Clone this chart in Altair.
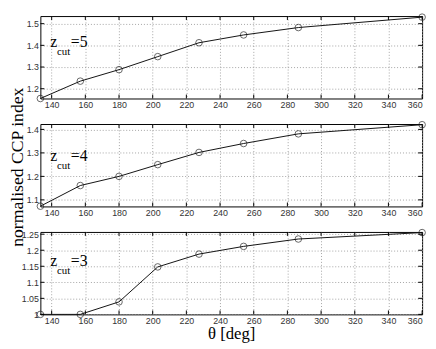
import altair as alt
import pandas as pd

theta = [133.3, 157, 180, 203, 227.5, 254, 286.5, 360]
ccp_z5 = [1.155, 1.235, 1.288, 1.348, 1.412, 1.448, 1.482, 1.530]
ccp_z4 = [1.073, 1.161, 1.200, 1.250, 1.302, 1.340, 1.381, 1.420]
ccp_z3 = [1.000, 1.000, 1.039, 1.148, 1.188, 1.212, 1.235, 1.255]

x_ticks = [140, 160, 180, 200, 220, 240, 260, 280, 300, 320, 340, 360]
y_ticks_z5 = [1.2, 1.3, 1.4, 1.5]
y_ticks_z4 = [1.1, 1.2, 1.3, 1.4]
y_ticks_z3 = [1.0, 1.05, 1.1, 1.15, 1.2, 1.25]

dom_z5 = [1.155, 1.535]
dom_z4 = [1.072, 1.423]
dom_z3 = [1.0, 1.257]
x_dom = [133.3, 360]

W, H = 389, 84
SERIF = "Times New Roman"
SANS = "Liberation Sans"


def panel(values, ydom, yticks, cut, lab_y, ytitle=None, xtitle=None):
    df = pd.DataFrame({"theta": theta, "ccp": values})
    xs = alt.Scale(domain=x_dom, nice=False, zero=False)
    ys = alt.Scale(domain=ydom, nice=False, zero=False)
    common = dict(grid=True, gridDash=[1, 2], gridColor="#999", gridOpacity=0.9,
                  domain=False, ticks=False, labelFont=SANS, labelFontSize=9,
                  labelColor="#333", labelPadding=2)
    xkw = dict(values=x_ticks, labelFlush=True, labelOverlap=False, **common)
    if xtitle:
        xkw.update(title=xtitle, titleFont=SERIF, titleFontSize=17,
                   titleFontWeight="normal", titleColor="black", titlePadding=1)
    else:
        xkw.update(title=None)
    ykw = dict(values=yticks, format="~g", labelFlush=False, labelOverlap=False,
               title=None, **common)
    xax = alt.Axis(**xkw)
    yax = alt.Axis(**ykw)

    base = alt.Chart(df)
    line = base.mark_line(color="#111", strokeWidth=1).encode(
        x=alt.X("theta:Q", scale=xs, axis=xax),
        y=alt.Y("ccp:Q", scale=ys, axis=yax),
    )
    pts = base.mark_point(shape="circle", size=45, color="#111",
                          filled=False, strokeWidth=0.9).encode(
        x=alt.X("theta:Q", scale=xs, axis=xax),
        y=alt.Y("ccp:Q", scale=ys, axis=yax))

    xt = alt.Chart(pd.DataFrame({"theta": x_ticks}))
    tb = xt.mark_rule(color="black").encode(
        x=alt.X("theta:Q", scale=xs, axis=xax), y=alt.value(H), y2=alt.value(H - 4))
    tt = xt.mark_rule(color="black").encode(
        x=alt.X("theta:Q", scale=xs, axis=xax), y=alt.value(0), y2=alt.value(4))
    yt = alt.Chart(pd.DataFrame({"ccp": yticks}))
    tl = yt.mark_rule(color="black").encode(
        y=alt.Y("ccp:Q", scale=ys, axis=yax), x=alt.value(0), x2=alt.value(4))
    tr = yt.mark_rule(color="black").encode(
        y=alt.Y("ccp:Q", scale=ys, axis=yax), x=alt.value(W), x2=alt.value(W - 4))

    one = alt.Chart(pd.DataFrame({"t": [0]}))
    z = one.mark_text(font=SERIF, fontSize=16, align="left", baseline="alphabetic",
                      color="black").encode(x=alt.value(10), y=alt.value(lab_y),
                                            text=alt.value("z"))
    sub = one.mark_text(font=SERIF, fontSize=11, align="left", baseline="alphabetic",
                        color="black").encode(x=alt.value(17), y=alt.value(lab_y + 8),
                                              text=alt.value("cut"))
    eq = one.mark_text(font=SERIF, fontSize=16, align="left", baseline="alphabetic",
                       color="black").encode(x=alt.value(31), y=alt.value(lab_y),
                                             text=alt.value("=" + cut))
    layers = [line, pts, tb, tt, tl, tr, z, sub, eq]
    if ytitle:
        yt_mark = one.mark_text(font=SERIF, fontSize=18, align="center",
                                baseline="alphabetic", angle=270,
                                color="black").encode(
            x=alt.value(-18), y=alt.value(44), text=alt.value(ytitle))
        layers.append(yt_mark)
    return alt.layer(*layers).properties(width=W, height=H)


top = panel(ccp_z5, dom_z5, y_ticks_z5, "5", 32)
mid = panel(ccp_z4, dom_z4, y_ticks_z4, "4", 38, ytitle="normalised CCP index")
bot = panel(ccp_z3, dom_z3, y_ticks_z3, "3", 35, xtitle="θ [deg]")

chart = alt.vconcat(top, mid, bot, spacing=26, bounds="flush").properties(
    padding={"left": 0, "top": 0, "right": 0, "bottom": 0},
    background="white",
).configure_view(stroke="black", strokeWidth=1)

chart.save("out.html", embed_options={"renderer": "svg", "actions": False})
